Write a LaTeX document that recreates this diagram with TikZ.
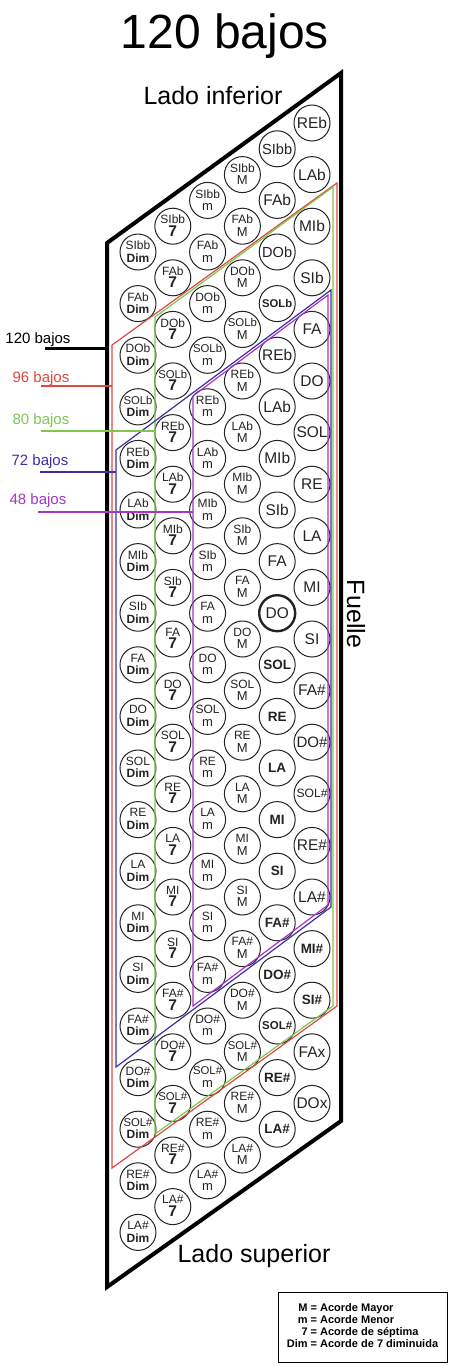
\documentclass[tikz,border=0pt]{standalone}
\usepackage{fontspec}
\setmainfont{Liberation Sans}
\usepackage{graphicx}
\usetikzlibrary{positioning}
\definecolor{ink}{RGB}{35,35,35}
\definecolor{b96}{RGB}{222,72,66}
\definecolor{b80}{RGB}{126,198,80}
\definecolor{b72}{RGB}{64,46,166}
\definecolor{b48}{RGB}{166,54,196}
\newcommand{\fitto}[2]{\sbox0{#2}\ifdim\wd0>#1\relax\resizebox{#1}{!}{\usebox0}\else\usebox0\fi}
\newcommand{\btnDim}{\bfseries\fontsize{12}{12.5}\selectfont Dim}
\newcommand{\btnSept}{\bfseries\fontsize{15.5}{12.5}\selectfont 7}
\newcommand{\btnMin}{\fontsize{13}{12.5}\selectfont m}
\newcommand{\btnMaj}{\fontsize{13}{12.5}\selectfont M}

\begin{document}
\begin{tikzpicture}[x=1pt, y=-1pt,
    btn/.style={circle, draw=ink, fill=white, line width=1pt, minimum size=36pt, inner sep=0pt, text=ink},
    note/.style={btn, font=\fontsize{15.5}{15.5}\selectfont},
    bnote/.style={btn, font=\bfseries\fontsize{13.5}{13.5}\selectfont},
    homenote/.style={note, line width=2.4pt},
    chord/.style={btn, align=center, text depth=1pt, font=\fontsize{12}{12.5}\selectfont},
    lbl/.style={anchor=base, font=\fontsize{15}{15}\selectfont},
    side/.style={font=\fontsize{25}{25}\selectfont}]
  \useasboundingbox (0,0) rectangle (450,1366);
  \node[anchor=base, font=\fontsize{48}{48}\selectfont] (title) at (225,48) {120 bajos};
  \node[side] (inf) at (213,96) {Lado inferior};
  \node[side, anchor=base] (sup) at (254,1262) {Lado superior};
  \node[side, rotate=-90] (fuelle) at (356,614) {Fuelle};
  \draw[line width=4pt] (107,243) -- (341,73) -- (341,1121) -- (107,1287) -- cycle;

  % chord columns: Dim, 7, m, M
  \foreach \r [count=\i from 0] in {SIbb, FAb, DOb, SOLb, REb, LAb, MIb, SIb, FA, DO, SOL, RE, LA, MI, SI, FA\#, DO\#, SOL\#, RE\#, LA\#}
    \foreach \k/\nm/\suf in {0/dim/\btnDim, 1/sep/\btnSept, 2/men/\btnMin, 3/may/\btnMaj}
      \node[chord] (\nm-\i) at ({138+34.8*\k}, {252-25.8*\k+51.6*\i}) {\fitto{29pt}{\r}\\\suf};
  % fundamental bass
  \foreach \r/\st [count=\i from 0] in {SIbb/note, FAb/note, DOb/note, SOLb/bnote, REb/note, LAb/note, MIb/note, SIb/note, FA/note, DO/homenote, SOL/bnote, RE/bnote, LA/bnote, MI/bnote, SI/bnote, FA\#/bnote, DO\#/bnote, SOL\#/bnote, RE\#/bnote, LA\#/bnote}
    \node[\st] (fun-\i) at ({138+34.8*4}, {252-25.8*4+51.6*\i}) {\fitto{30pt}{\r}};
  % counterbass
  \foreach \r/\st [count=\i from 0] in {REb/note, LAb/note, MIb/note, SIb/note, FA/note, DO/note, SOL/note, RE/note, LA/note, MI/note, SI/note, FA\#/note, DO\#/note, SOL\#/note, RE\#/note, LA\#/note, MI\#/bnote, SI\#/bnote, FAx/note, DOx/note}
    \node[\st] (con-\i) at ({138+34.8*5}, {252-25.8*5+51.6*\i}) {\fitto{31pt}{\r}};

  % smaller keyboards
  \draw[b96, line width=1.2pt] (112,345) -- (337,183) -- (337,1006) -- (112,1168) -- cycle;
  \draw[b80, line width=1.2pt] (155,317) -- (333,187) -- (333,1006) -- (155,1134) -- cycle;
  \draw[b72, line width=1.2pt] (116,450) -- (331,290) -- (331,907) -- (116,1067) -- cycle;
  \draw[b48, line width=1.2pt] (193,396) -- (328,295) -- (328,905) -- (193,1006) -- cycle;

  \coordinate (e120) at (107,348);
  \coordinate (e96) at (112,386);
  \coordinate (e80) at (155,431);
  \coordinate (e72) at (116,472);
  \coordinate (e48) at (193,512);
  \node[lbl] (l120) at (38,343) {120 bajos};
  \node[lbl, text=b96] (l96) at (41,382) {96 bajos};
  \node[lbl, text=b80] (l80) at (41,424) {80 bajos};
  \node[lbl, text=b72] (l72) at (40,465) {72 bajos};
  \node[lbl, text=b48] (l48) at (38,504) {48 bajos};
  \draw[line width=3pt] (l120.center |- e120) ++(7,0) -- (e120);
  \draw[b96, line width=1.3pt] (l96.center |- e96) -- (e96);
  \draw[b80, line width=1.3pt] (l80.center |- e80) -- (e80);
  \draw[b72, line width=1.3pt] (l72.center |- e72) -- (e72);
  \draw[b48, line width=1.3pt] (l48.center |- e48) -- (e48);

  \node[draw, line width=0.8pt, minimum width=169pt, minimum height=70pt, inner sep=0pt,
        font=\bfseries\fontsize{11}{12.3}\selectfont] (legend) at (362.5,1327)
    {\begin{tabular}{@{}r@{ = }l@{}}M & Acorde Mayor\\ m & Acorde Menor\\ 7 & Acorde de séptima\\ Dim & Acorde de 7 diminuida\end{tabular}};
\end{tikzpicture}
\end{document}
